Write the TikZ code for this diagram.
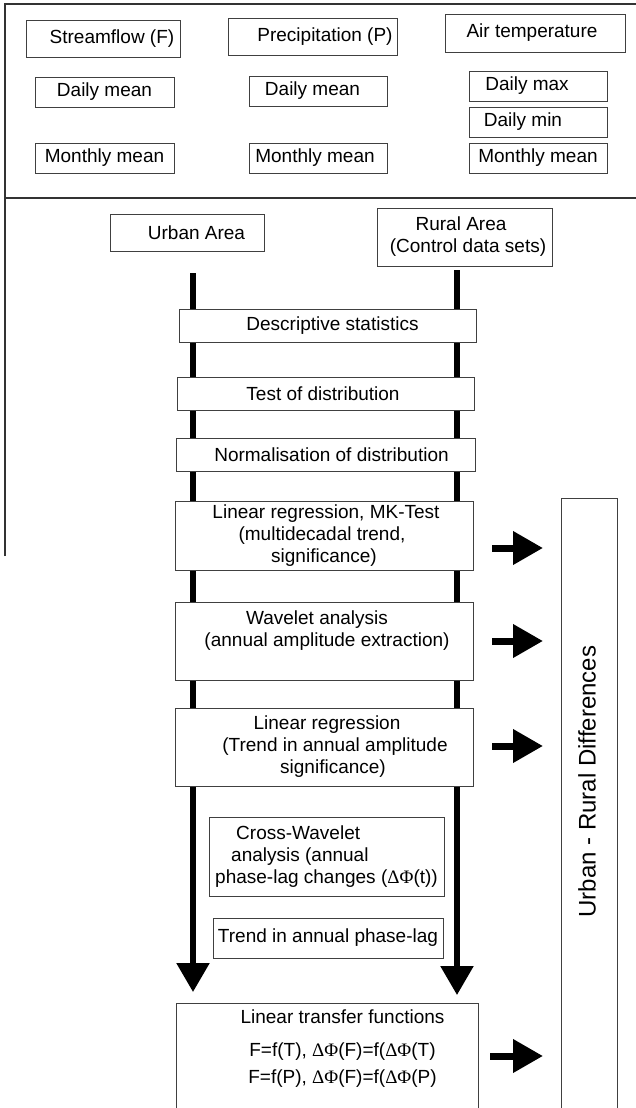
\documentclass[tikz,border=0pt]{standalone}
\usepackage{fontspec}
\setmainfont{Liberation Sans}
\newfontfamily\symf{Liberation Serif}
\usetikzlibrary{arrows.meta}
\begin{document}
\begin{tikzpicture}[x=1pt,y=-1pt,
  box/.style={draw=black!75, line width=0.9pt, fill=white, inner sep=0pt,
    font=\fontsize{19}{22}\selectfont, align=center},
  txt/.style={inner sep=0pt, font=\fontsize{19}{22}\selectfont, align=center},
  bar/.style={line width=5.5pt, -{Triangle[length=29pt,width=32pt]}},
  harrow/.style={line width=7pt, -{Triangle[length=30pt,width=32pt]}},
  frame/.style={draw=black!80, line width=1.2pt}]
\useasboundingbox (0,0) rectangle (636,1108);
\fill[white] (0,0) rectangle (636,1108);

% frame of the data panel
\coordinate (f1) at (5,556); \coordinate (f2) at (5,4); \coordinate (f3) at (636,4);
\coordinate (f4) at (5,198); \coordinate (f5) at (636,198);
\draw[frame] (f1) -- (f2) -- (f3);
\draw[frame] (f4) -- (f5);

% vertical flow bars
\coordinate (ls) at (193,273); \coordinate (le) at (193,992);
\coordinate (rs) at (457,270); \coordinate (re) at (457,995);
\draw[bar] (ls) -- (le);
\draw[bar] (rs) -- (re);

% data boxes
\node[box, minimum width=154pt, minimum height=37pt] (sf) at (103,38.5) {\hspace*{18pt}Streamflow (F)};
\node[box, minimum width=169pt, minimum height=37pt] (pr) at (312.5,36.5) {\hspace*{25pt}Precipitation (P)};
\node[box, minimum width=180pt, minimum height=38pt] (at) at (535,33) {\hspace*{-6pt}Air temperature};
\node[box, minimum width=139pt, minimum height=30pt] (dm1) at (104.5,92) {Daily mean};
\node[box, minimum width=138pt, minimum height=30pt] (dm2) at (318,91) {\hspace*{-11pt}Daily mean};
\node[box, minimum width=138pt, minimum height=30pt] (dmax) at (538,86) {\hspace*{-22pt}Daily max};
\node[box, minimum width=138pt, minimum height=30pt] (dmin) at (538,122) {\hspace*{-30pt}Daily min};
\node[box, minimum width=139pt, minimum height=30pt] (mm1) at (104.5,158) {Monthly mean};
\node[box, minimum width=138pt, minimum height=30pt] (mm2) at (318,158) {\hspace*{-6pt}Monthly mean};
\node[box, minimum width=138pt, minimum height=30pt] (mm3) at (538,158) {Monthly mean};

% areas
\node[box, minimum width=154pt, minimum height=37pt] (urban) at (187,232.5) {\hspace*{19pt}Urban Area};
\node[box, minimum width=175pt, minimum height=58pt] (rural) at (465,237) {\hspace*{-8pt}Rural Area\\\hspace*{6pt}(Control data sets)};

% analysis steps
\node[box, minimum width=297pt, minimum height=33pt] (desc) at (327.5,325.5) {\hspace*{10pt}Descriptive statistics};
\node[box, minimum width=297pt, minimum height=33pt] (test) at (325.5,393.5) {\hspace*{-5pt}Test of distribution};
\node[box, minimum width=298.5pt, minimum height=33pt] (norm) at (326,454.5) {\hspace*{11pt}Normalisation of distribution};
\node[box, minimum width=298pt, minimum height=69pt] (lrmk) at (324,535.5) {\hspace*{4pt}Linear regression, MK-Test\\\hspace*{-4pt}(multidecadal trend,\\significance)};
\node[box, minimum width=298pt, minimum height=78pt] (wav) at (324,641) {\hspace*{-14pt}Wavelet analysis\\\hspace*{6pt}(annual amplitude extraction)\\[-4pt]\strut};
\node[box, minimum width=298pt, minimum height=78pt] (lr2) at (324,747) {\hspace*{6pt}Linear regression\\\hspace*{22pt}(Trend in annual amplitude\\\hspace*{18pt}significance)};
\node[box, minimum width=235pt, minimum height=79pt, align=left] (xw) at (326.5,856.5) {\hspace*{21pt}Cross-Wavelet\\\hspace*{16pt}analysis (annual\\phase-lag changes ({\symf ΔΦ}(t))};
\node[box, minimum width=230pt, minimum height=40pt] (trend) at (328,938) {Trend in annual phase-lag};
\node[box, minimum width=302pt, minimum height=117pt] (ltf) at (327,1061.5) {};
\node[txt] (ltft) at (342.5,1049) {Linear transfer functions\\[11pt]F=f(T), {\symf ΔΦ}(F)=f({\symf ΔΦ}(T)\\[5pt]F=f(P), {\symf ΔΦ}(F)=f({\symf ΔΦ}(P)};

% urban - rural differences
\node[box, minimum width=56pt, minimum height=622pt] (urd) at (589,809) {};
\node[inner sep=0pt, rotate=90, font=\fontsize{24}{28}\selectfont] (urdt) at (587,781.5) {Urban - Rural Differences};

% horizontal arrows
\coordinate (a1s) at (492,548);  \coordinate (a1e) at (543,548);
\coordinate (a2s) at (492,641);  \coordinate (a2e) at (543,641);
\coordinate (a3s) at (492,746);  \coordinate (a3e) at (543,746);
\coordinate (a4s) at (490,1056); \coordinate (a4e) at (543,1056);
\draw[harrow] (a1s) -- (a1e);
\draw[harrow] (a2s) -- (a2e);
\draw[harrow] (a3s) -- (a3e);
\draw[harrow] (a4s) -- (a4e);
\end{tikzpicture}
\end{document}
